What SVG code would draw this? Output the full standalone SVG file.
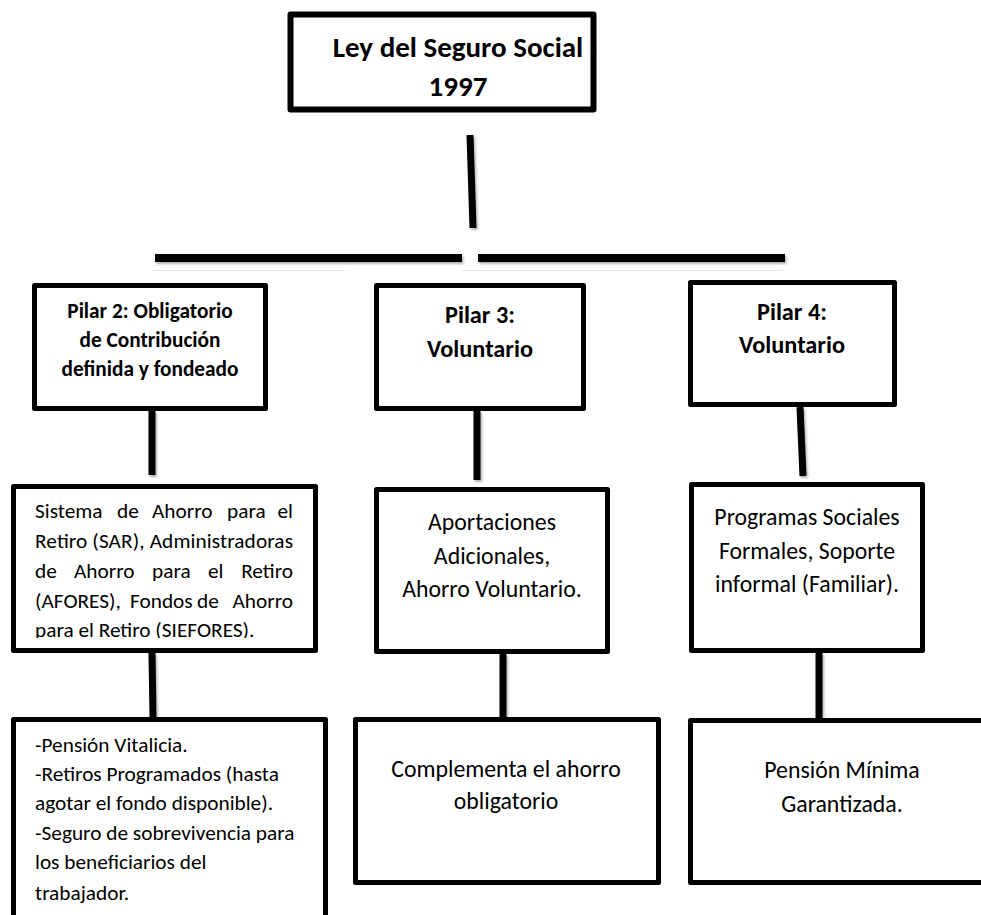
<svg xmlns="http://www.w3.org/2000/svg" width="981" height="915" viewBox="0 0 981 915">
  <style>
    .box { fill: #ffffff; stroke: #000000; stroke-width: 5; stroke-linejoin: round; }
    .title { font-family: Carlito, Lato, "Liberation Sans", sans-serif; font-weight: bold; fill: #000000; text-anchor: middle; }
    .body { font-family: Carlito, Lato, "Liberation Sans", sans-serif; font-size: 23.8px; fill: #000000; }
    .small { font-size: 21.3px; }
    .mid { text-anchor: middle; }
    .end { text-anchor: end; }
    .link { stroke: #000000; stroke-width: 7; fill: none; }
    .bar { stroke: #000000; stroke-width: 8; fill: none; }
    .faint { stroke: #e2e2e2; stroke-width: 1; }
  </style>
  <defs>
    <filter id="shade" x="-20%" y="-20%" width="140%" height="160%">
      <feDropShadow dx="1.5" dy="2" stdDeviation="1.2" flood-color="#000000" flood-opacity="0.3"/>
    </filter>
    <clipPath id="sarClip">
      <rect x="16" y="489" width="297" height="149"/>
    </clipPath>
  </defs>

  <rect x="0" y="0" width="981" height="915" fill="#ffffff"/>

  <!-- connectors -->
  <g id="connectors" filter="url(#shade)">
    <line class="link" x1="470" y1="135" x2="473" y2="228"/>
    <line class="bar" x1="155" y1="258" x2="462" y2="258"/>
    <line class="bar" x1="478" y1="258" x2="785" y2="258"/>
    <line class="link" x1="152" y1="411" x2="152" y2="475"/>
    <line class="link" x1="477" y1="411" x2="477" y2="480"/>
    <line class="link" x1="800" y1="407" x2="803" y2="476"/>
    <line class="link" x1="152" y1="653" x2="153" y2="718"/>
    <line class="link" x1="503" y1="654" x2="503" y2="718"/>
    <line class="link" x1="819" y1="653" x2="819" y2="719"/>
  </g>
  <line class="faint" x1="153" y1="270.5" x2="345" y2="270.5"/>
  <line class="faint" x1="463" y1="270.5" x2="783" y2="270.5"/>

  <!-- root -->
  <g id="ley1997">
    <rect class="box" x="290.5" y="14.5" width="303" height="95" style="stroke-width:6"/>
    <text class="title" x="458" y="57" font-size="29">Ley del Seguro Social</text>
    <text class="title" x="458" y="96" font-size="29">1997</text>
  </g>

  <!-- pillars -->
  <g id="pilar2">
    <rect class="box" x="34.5" y="285.5" width="231" height="123"/>
    <text class="title" x="150" y="318" font-size="21.3">Pilar 2: Obligatorio</text>
    <text class="title" x="150" y="347" font-size="21.3">de Contribución</text>
    <text class="title" x="150" y="376" font-size="21.3">definida y fondeado</text>
  </g>
  <g id="pilar3">
    <rect class="box" x="376.5" y="285.5" width="207" height="123"/>
    <text class="title" x="480" y="323" font-size="24.3">Pilar 3:</text>
    <text class="title" x="480" y="357" font-size="24.3">Voluntario</text>
  </g>
  <g id="pilar4">
    <rect class="box" x="690.5" y="282.5" width="204" height="122"/>
    <text class="title" x="792" y="320" font-size="24.3">Pilar 4:</text>
    <text class="title" x="792" y="353" font-size="24.3">Voluntario</text>
  </g>

  <!-- instruments -->
  <g id="sar">
    <rect class="box" x="13.5" y="486.5" width="302" height="164"/>
    <g clip-path="url(#sarClip)" class="body small">
      <text y="518"><tspan x="35">Sistema</tspan><tspan x="117">de</tspan><tspan x="152">Ahorro</tspan><tspan x="227">para</tspan><tspan x="293" class="end">el</tspan></text>
      <text x="35" y="548" textLength="258" lengthAdjust="spacing">Retiro (SAR), Administradoras</text>
      <text y="578"><tspan x="35">de</tspan><tspan x="74">Ahorro</tspan><tspan x="152">para</tspan><tspan x="208">el</tspan><tspan x="293" class="end">Retiro</tspan></text>
      <text y="608"><tspan x="35">(AFORES),</tspan><tspan x="130">Fondos</tspan><tspan x="197">de</tspan><tspan x="293" class="end">Ahorro</tspan></text>
      <text x="35" y="637">para el Retiro (SIEFORES).</text>
    </g>
  </g>
  <g id="aportaciones">
    <rect class="box" x="376.5" y="489.5" width="231" height="162"/>
    <text class="body mid" x="492" y="530">Aportaciones</text>
    <text class="body mid" x="492" y="564">Adicionales,</text>
    <text class="body mid" x="492" y="597">Ahorro Voluntario.</text>
  </g>
  <g id="programas">
    <rect class="box" x="691.5" y="484.5" width="231" height="166"/>
    <text class="body mid" x="807" y="525">Programas Sociales</text>
    <text class="body mid" x="807" y="559">Formales, Soporte</text>
    <text class="body mid" x="807" y="592">informal (Familiar).</text>
  </g>

  <!-- benefits -->
  <g id="beneficios">
    <rect class="box" x="13.5" y="719.5" width="312" height="220"/>
    <g class="body small">
      <text x="35" y="752">-Pensión Vitalicia.</text>
      <text x="35" y="781">-Retiros Programados (hasta</text>
      <text x="35" y="810">agotar el fondo disponible).</text>
      <text x="35" y="840">-Seguro de sobrevivencia para</text>
      <text x="35" y="869">los beneficiarios del</text>
      <text x="35" y="900">trabajador.</text>
    </g>
  </g>
  <g id="complementa">
    <rect class="box" x="355.5" y="719.5" width="303" height="163"/>
    <text class="body mid" x="506" y="777">Complementa el ahorro</text>
    <text class="body mid" x="506" y="809">obligatorio</text>
  </g>
  <g id="pension-minima">
    <rect class="box" x="690.5" y="720.5" width="320" height="162"/>
    <text class="body mid" x="842" y="778">Pensión Mínima</text>
    <text class="body mid" x="842" y="812">Garantizada.</text>
  </g>
</svg>
